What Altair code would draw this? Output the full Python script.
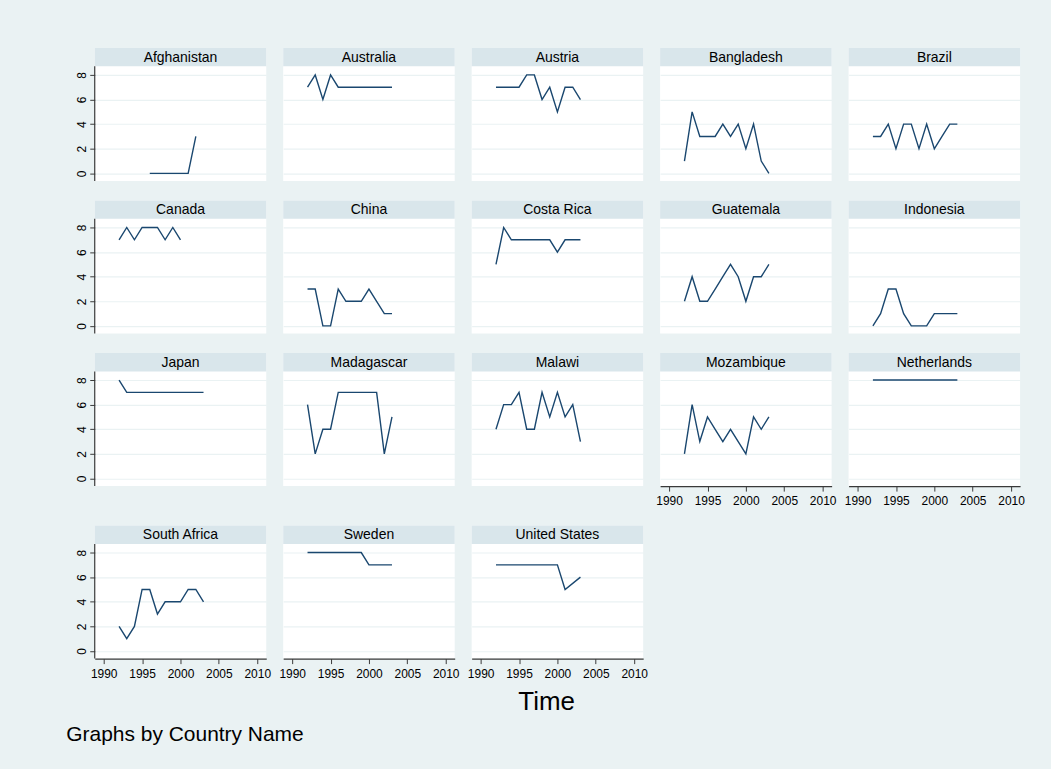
import altair as alt
import pandas as pd

# ---------------- data ----------------
YEARS = [1992, 1993, 1994, 1995, 1996, 1997, 1998, 1999, 2000, 2001, 2002, 2003]

COUNTRIES = [
    "Afghanistan", "Australia", "Austria", "Bangladesh", "Brazil",
    "Canada", "China", "Costa Rica", "Guatemala", "Indonesia",
    "Japan", "Madagascar", "Malawi", "Mozambique", "Netherlands",
    "South Africa", "Sweden", "United States",
]

afghanistan = [None, None, None, None, 0, 0, 0, 0, 0, 0, 3, None]
australia = [7, 8, 6, 8, 7, 7, 7, 7, 7, 7, 7, 7]
austria = [7, 7, 7, 7, 8, 8, 6, 7, 5, 7, 7, 6]
bangladesh = [1, 5, 3, 3, 3, 4, 3, 4, 2, 4, 1, 0]
brazil = [3, 3, 4, 2, 4, 4, 2, 4, 2, 3, 4, 4]
canada = [7, 8, 7, 8, 8, 8, 7, 8, 7, None, None, None]
china = [3, 3, 0, 0, 3, 2, 2, 2, 3, 2, 1, 1]
costa_rica = [5, 8, 7, 7, 7, 7, 7, 7, 6, 7, 7, 7]
guatemala = [2, 4, 2, 2, 3, 4, 5, 4, 2, 4, 4, 5]
indonesia = [0, 1, 3, 3, 1, 0, 0, 0, 1, 1, 1, 1]
japan = [8, 7, 7, 7, 7, 7, 7, 7, 7, 7, 7, 7]
madagascar = [6, 2, 4, 4, 7, 7, 7, 7, 7, 7, 2, 5]
malawi = [4, 6, 6, 7, 4, 4, 7, 5, 7, 5, 6, 3]
mozambique = [2, 6, 3, 5, 4, 3, 4, 3, 2, 5, 4, 5]
netherlands = [8, 8, 8, 8, 8, 8, 8, 8, 8, 8, 8, 8]
south_africa = [2, 1, 2, 5, 5, 3, 4, 4, 4, 5, 5, 4]
sweden = [8, 8, 8, 8, 8, 8, 8, 8, 7, 7, 7, 7]
united_states = [7, 7, 7, 7, 7, 7, 7, 7, 7, 5, None, 6]

SERIES = [
    afghanistan, australia, austria, bangladesh, brazil,
    canada, china, costa_rica, guatemala, indonesia,
    japan, madagascar, malawi, mozambique, netherlands,
    south_africa, sweden, united_states,
]

X_TICKS = [1990, 1995, 2000, 2005, 2010]
Y_TICKS = [0, 2, 4, 6, 8]

# ---------------- style ----------------
FONT = "Liberation Sans"
LINE = "#1A476F"
HEADER = "#D9E6EB"
BG = "#EAF2F3"
GRID = "#EAF2F3"
AXIS = "#3a3a3a"

W = 172          # panel width
PH = 115         # plot height (below header)
HH = 18.4        # header height
H = PH + HH
Y_LO, Y_TOP = -0.62, 8.70
Y_HI = Y_TOP + HH * (Y_TOP - Y_LO) / PH
X_DOM = [1988.83, 2011.17]

NCOL = 5
n = len(COUNTRIES)


def is_bottom(i):
    return i + NCOL >= n


def panel(i):
    name = COUNTRIES[i]
    vals = SERIES[i]
    df = pd.DataFrame({"year": YEARS, "value": vals}).dropna()
    df["country"] = name
    col = i % NCOL

    yaxis = alt.Axis(
        values=Y_TICKS, grid=True, gridColor=GRID, gridWidth=1.2, domain=False,
        ticks=(col == 0), labels=(col == 0), tickSize=5, tickColor=AXIS,
        labelAngle=270, labelAlign="center", labelBaseline="alphabetic",
        labelPadding=4.5, labelFontSize=12, labelColor="black", labelFont=FONT,
        title=None,
    )
    if is_bottom(i):
        xaxis = alt.Axis(
            values=X_TICKS, format="d", grid=False, domain=True,
            domainColor=AXIS, domainWidth=1.2, tickColor=AXIS, tickSize=5,
            labelPadding=4.5, labelFontSize=12, labelColor="black", labelFont=FONT,
            labelFlush=False, labelOverlap=False,
            title="Time" if name == "United States" else None,
            titleFontSize=26, titleFontWeight="normal", titleColor="black",
            titleFont=FONT, titleX=74.7, titleY=51, titleAlign="center",
            titleBaseline="alphabetic",
        )
    else:
        xaxis = None

    line = alt.Chart(df).mark_line(color=LINE, strokeWidth=1.4).encode(
        x=alt.X("year:Q", scale=alt.Scale(domain=X_DOM, nice=False, zero=False), axis=xaxis),
        y=alt.Y("value:Q", scale=alt.Scale(domain=[Y_LO, Y_HI], nice=False, zero=False), axis=yaxis),
    )

    hdf = pd.DataFrame({"country": [name]})
    head_rect = alt.Chart(hdf).mark_rect(color=HEADER).encode(
        x=alt.value(0), x2=alt.value(W), y=alt.value(0), y2=alt.value(HH)
    )
    head_text = alt.Chart(hdf).mark_text(
        font=FONT, fontSize=14, color="black", baseline="middle", align="center"
    ).encode(text="country:N", x=alt.value(W / 2), y=alt.value(HH / 2 + 0.5))

    layers = [line, head_rect, head_text]
    if col == 0:
        rule = alt.Chart(hdf).mark_rule(color=AXIS, strokeWidth=1.2).encode(
            x=alt.value(0), y=alt.value(HH), y2=alt.value(H)
        )
        layers.append(rule)
    return alt.layer(*layers).properties(width=W, height=H)


rows = []
for r in range(0, n, NCOL):
    rows.append(
        alt.hconcat(*[panel(i) for i in range(r, min(r + NCOL, n))], spacing=17, bounds="flush")
    )

chart = alt.vconcat(*rows, spacing=19).properties(
    padding={"left": 66, "top": 47, "right": 26, "bottom": 22},
    background=BG,
    title=alt.TitleParams(
        "Graphs by Country Name", orient="bottom", anchor="start",
        fontSize=21, fontWeight="normal", font=FONT, color="black",
        offset=10, dx=-9,
    ),
).configure_view(fill="white", stroke=None)

chart.save("out.html", embed_options={"renderer": "svg", "actions": False})
